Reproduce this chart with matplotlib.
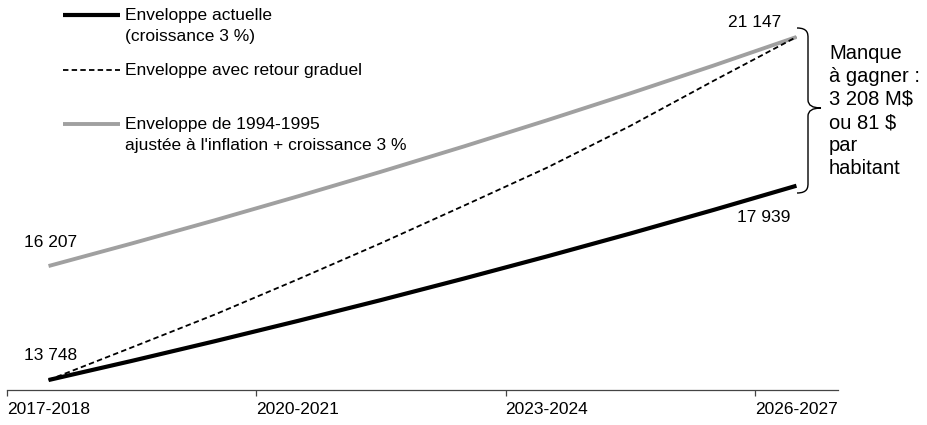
import matplotlib
matplotlib.use('Agg')
import matplotlib.pyplot as plt
from matplotlib.lines import Line2D
from matplotlib.path import Path
from matplotlib.patches import PathPatch

plt.rcParams['font.family'] = ['Liberation Sans', 'DejaVu Sans']

years = ['2017-2018', '2018-2019', '2019-2020', '2020-2021', '2021-2022',
         '2022-2023', '2023-2024', '2024-2025', '2025-2026', '2026-2027']
actuelle = [13748, 14160, 14585, 15023, 15473, 15938, 16416, 16908, 17416, 17939]
graduel = [13748, 14450, 15160, 15920, 16700, 17510, 18330, 19230, 20200, 21147]
indexee = [16207, 16693, 17194, 17710, 18241, 18788, 19352, 19932, 20530, 21147]
tick_labels = ['2017-2018', '2020-2021', '2023-2024', '2026-2027']
note = 'Manque\nà gagner :\n3 208 M$\nou 81 $\npar\nhabitant'

black = '#000000'
grey = '#a0a0a0'
fs = 12.5

fig = plt.figure(figsize=(9.27, 4.25), dpi=100)
ax = fig.add_axes([7 / 927, 1 - 390 / 425, 831 / 927, 370 / 425])

x = list(range(len(years)))
ax.plot(x, indexee, color=grey, lw=2.8, solid_capstyle='butt')
ax.plot(x, graduel, color=black, lw=1.3, dashes=(3.0, 1.8))
ax.plot(x, actuelle, color=black, lw=3.0, solid_capstyle='butt')

ax.set_xlim(-0.5, 9.5)
ax.set_ylim(13533, 21514)

for s in ['top', 'right', 'left']:
    ax.spines[s].set_visible(False)
ax.spines['bottom'].set_color('#444444')
ax.spines['bottom'].set_linewidth(0.9)
ax.set_yticks([])
ax.set_xticks([-0.5, 2.5, 5.5, 8.5])
ax.set_xticklabels(tick_labels, ha='left', fontsize=fs)
ax.tick_params(axis='x', length=4.3, width=0.9, color='#444444', pad=4)

# data labels
def fmt(v):
    return f'{v:,}'.replace(',', ' ')

ax.annotate(fmt(indexee[0]), (0, indexee[0]), xytext=(-25, 24), textcoords='offset pixels',
            ha='left', va='center', fontsize=fs)
ax.annotate(fmt(actuelle[0]), (0, actuelle[0]), xytext=(-25, 25), textcoords='offset pixels',
            ha='left', va='center', fontsize=fs)
ax.annotate(fmt(indexee[-1]), (9, indexee[-1]), xytext=(-42, 15), textcoords='offset pixels',
            ha='center', va='center', fontsize=fs)
ax.annotate(fmt(actuelle[-1]), (9, actuelle[-1]), xytext=(-33, -32), textcoords='offset pixels',
            ha='center', va='center', fontsize=fs)

# brace between the two end values
top_px, bot_px, mid_px = 28, 193, 108
xb, xt, x0 = 808, 821, 797
def fy(p):
    return 1 - p / 425
def fx(p):
    return p / 927
verts = [(x0, top_px), (xb, top_px), (xb, top_px + 6), (xb, top_px + 10),
         (xb, mid_px - 8),
         (xb, mid_px), (xt, mid_px),
         (xb, mid_px), (xb, mid_px + 8),
         (xb, bot_px - 10),
         (xb, bot_px - 6), (xb, bot_px), (x0, bot_px)]
codes = [Path.MOVETO, Path.CURVE4, Path.CURVE4, Path.CURVE4,
         Path.LINETO,
         Path.CURVE3, Path.CURVE3,
         Path.CURVE3, Path.CURVE3,
         Path.LINETO,
         Path.CURVE4, Path.CURVE4, Path.CURVE4]
brace = Path([(fx(a), fy(b)) for a, b in verts], codes)
fig.add_artist(PathPatch(brace, transform=fig.transFigure, fill=False,
                         edgecolor=black, lw=1.0))
fig.text(fx(829), fy(111), note, ha='left', va='center', fontsize=14.5,
         linespacing=1.27)

# legend drawn by hand
legend_items = [
    (15, black, 3.0, None, 'Enveloppe actuelle\n(croissance 3 %)'),
    (70, black, 1.3, (3.0, 1.8), 'Enveloppe avec retour graduel'),
    (124, grey, 2.8, None, 'Enveloppe de 1994-1995\najustée à l\'inflation + croissance 3 %'),
]
for ypx, c, lw, dash, label in legend_items:
    ln = Line2D([fx(63), fx(120)], [fy(ypx), fy(ypx)], color=c, lw=lw,
                transform=fig.transFigure, solid_capstyle='butt')
    if dash:
        ln.set_dashes(dash)
    fig.add_artist(ln)
    fig.text(fx(125), fy(ypx - 7), label, ha='left', va='top', fontsize=fs,
             linespacing=1.5)

fig.savefig('out.png', dpi=100)
